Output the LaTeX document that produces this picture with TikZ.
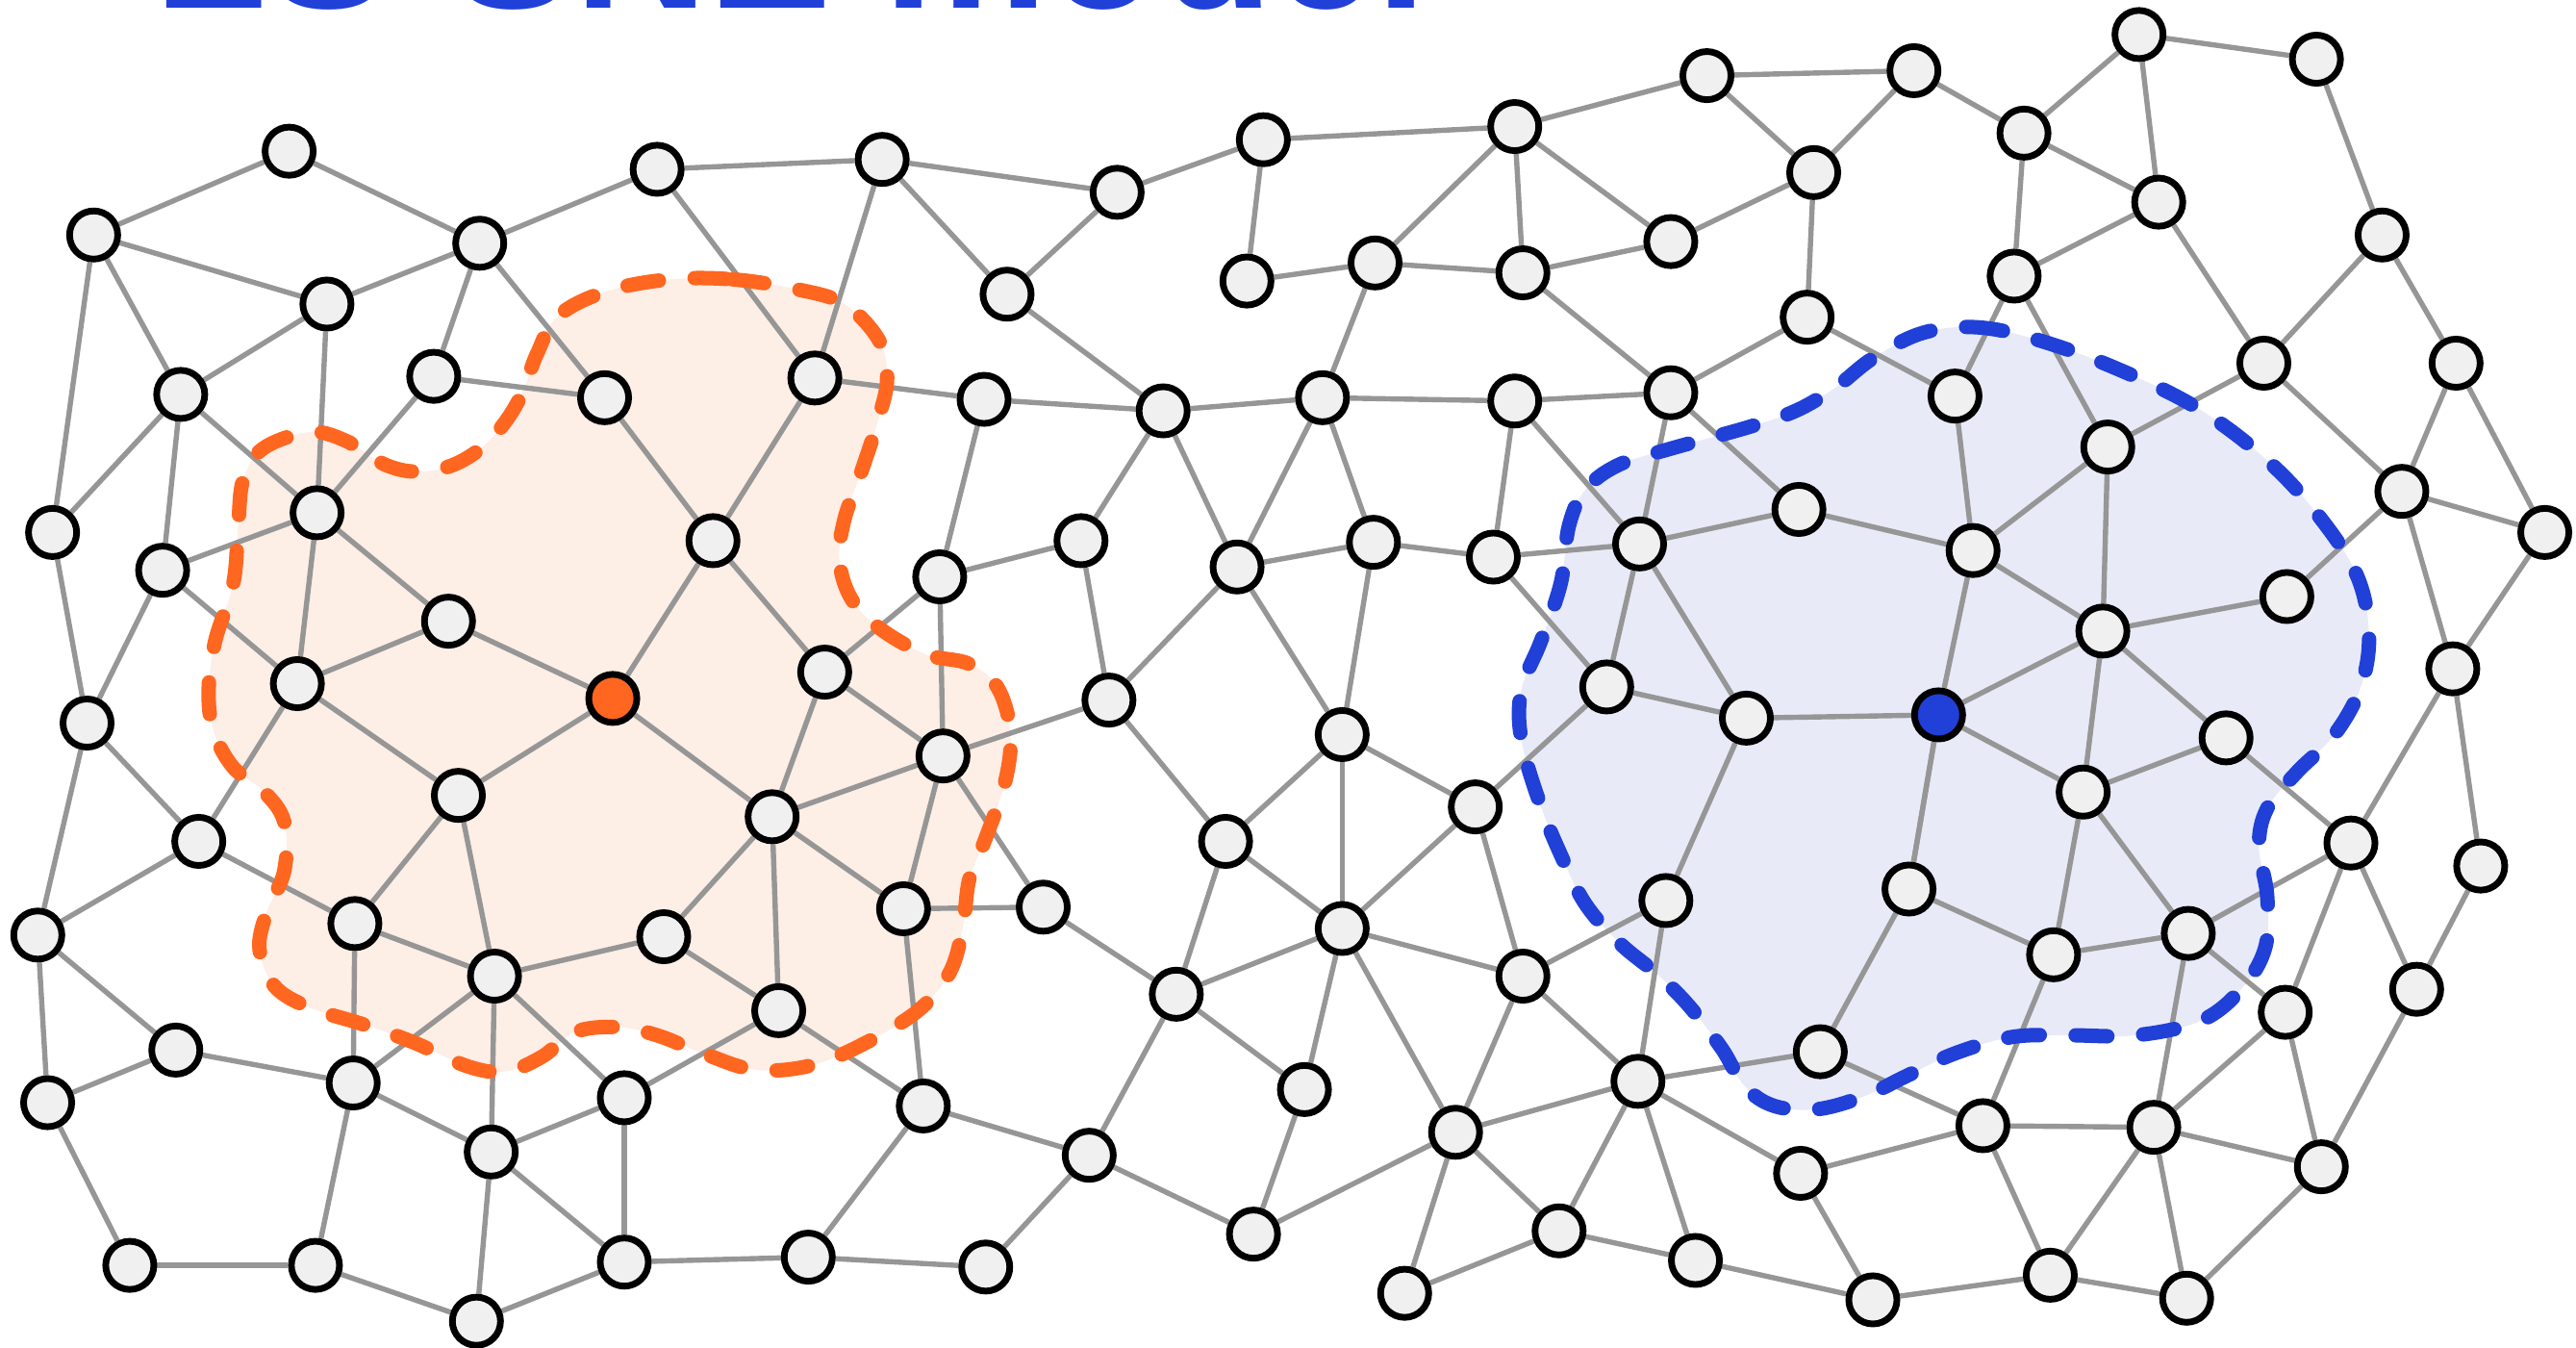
\documentclass[tikz,border=0pt]{standalone}
\usepackage{fontspec}
\setmainfont{Liberation Sans}
\pgfdeclarelayer{fillL}\pgfdeclarelayer{edgeL}\pgfdeclarelayer{dashL}
\pgfsetlayers{fillL,edgeL,dashL,main}
\definecolor{edgegray}{RGB}{150,150,150}
\definecolor{nodefill}{RGB}{240,240,240}
\definecolor{orng}{RGB}{255,102,32}
\definecolor{orngfill}{RGB}{253,238,230}
\definecolor{blu}{RGB}{32,64,216}
\definecolor{blufill}{RGB}{232,234,248}
\tikzset{
  nd/.style={circle,draw=black,fill=nodefill,line width=1.15pt,minimum size=0.293cm,inner sep=0pt},
  ond/.style={nd,fill=orng},
  bnd/.style={nd,fill=blu},
  edge/.style={draw=edgegray,line width=0.9pt},
  blobline/.style={line width=2.5pt,line cap=round,dash pattern=on 5.5pt off 6.2pt},
}
\begin{document}
\begin{tikzpicture}[x=0.01cm,y=-0.01cm]
\useasboundingbox (0,0) rectangle (1568,820);
\node[anchor=base west,text=blu,font=\fontsize{32}{34}\selectfont\bfseries,inner sep=0pt] (title) at (93,5) {LS-SNE model};
% nodes
\foreach \i/\x/\y in {1/176/92,2/57/143,3/292/148,4/199/185,5/400/103,6/537/97,7/680/117,8/769/85,9/613/179,10/110/240,
11/264/229,12/368/242,13/496/230,14/599/243,15/32/324,16/99/347,17/193/312,18/273/378,19/434/329,20/572/351,
21/658/329,22/53/440,23/181/416,25/502/409,26/574/460,27/675/426,28/279/484,29/121/512,30/470/497,
31/23/569,32/216/562,33/301/594,34/404/570,35/550/553,36/635/552,37/107/639,38/29/671,39/215/659,40/474/615,
41/299/701,42/380/668,43/562/673,44/663/703,45/79/770,46/192/770,47/290/804,48/380/768,49/492/765,50/600/771,
51/759/171,52/837/160,53/922/77,54/927/166,55/708/250,56/805/242,57/922/244,58/1017/147,59/1039/46,60/1165/43,
61/1104/105,62/1017/239,63/1100/193,64/753/345,65/836/330,66/909/339,67/998/331,68/1095/310,69/817/447,70/746/512,
71/898/491,72/978/418,73/1063/437,75/716/605,76/817/565,77/794/663,78/763/751,79/927/594,80/1014/548,
81/886/689,82/855/787,83/949/749,84/997/658,85/1032/767,86/1108/640,87/1096/714,88/1140/791,89/1162/541,90/1250/581,
91/1332/568,92/1268/482,93/1355/449,94/1280/384,95/1201/335,96/1190/241,97/1283/272,98/1226/168,99/1232/81,100/1302/21,
101/1314/123,102/1410/36,103/1450/143,104/1378/221,105/1495/221,106/1462/299,107/1549/324,108/1392/363,109/1493/407,110/1431/513,
111/1510/527,112/1391/616,113/1471/602,114/1207/685,115/1311/686,116/1413/710,117/1248/776,118/1331/790}
  \node[nd] (n\i) at (\x,\y) {};
\node[ond] (n24) at (373,425) {};
\node[bnd] (n74) at (1180,435) {};
% blobs
\begin{pgfonlayer}{fillL}
\fill[orngfill] plot[smooth cycle,tension=0.6] coordinates {(408,170)(446,170)(485,176)(514,185)(535,207)(540,230)(535,254)(525,285)(514,316)(511,341)(518,364)(535,382)(563,398)(590,404)(607,418)(615,445)(612,475)(600,510)(590,535)(586,565)(578,592)(560,614)(530,633)(495,648)(460,651)(428,641)(400,630)(376,625)(350,628)(330,643)(308,652)(285,649)(251,634)(220,623)(188,613)(167,600)(158,578)(162,556)(173,530)(173,500)(160,481)(142,467)(130,445)(127,420)(131,390)(142,355)(145,320)(148,292)(160,273)(188,263)(210,268)(235,283)(256,287)(278,282)(298,268)(315,245)(327,215)(340,192)(370,177)};
\fill[blufill] plot[smooth cycle,tension=0.6] coordinates {(1169,203)(1200,199)(1234,205)(1283,222)(1337,248)(1381,281)(1413,316)(1435,351)(1442,386)(1437,418)(1421,447)(1398,470)(1380,492)(1375,515)(1380,545)(1379,576)(1365,601)(1340,621)(1300,630)(1259,630)(1225,631)(1190,641)(1160,655)(1135,667)(1106,675)(1080,673)(1062,661)(1048,638)(1028,612)(1009,593)(986,574)(965,550)(950,520)(937,488)(926,450)(926,420)(938,390)(950,355)(955,320)(965,298)(985,283)(1017,273)(1064,260)(1093,250)(1117,236)(1140,218)};
\end{pgfonlayer}
\begin{pgfonlayer}{dashL}
\draw[orng,blobline] plot[smooth cycle,tension=0.6] coordinates {(408,170)(446,170)(485,176)(514,185)(535,207)(540,230)(535,254)(525,285)(514,316)(511,341)(518,364)(535,382)(563,398)(590,404)(607,418)(615,445)(612,475)(600,510)(590,535)(586,565)(578,592)(560,614)(530,633)(495,648)(460,651)(428,641)(400,630)(376,625)(350,628)(330,643)(308,652)(285,649)(251,634)(220,623)(188,613)(167,600)(158,578)(162,556)(173,530)(173,500)(160,481)(142,467)(130,445)(127,420)(131,390)(142,355)(145,320)(148,292)(160,273)(188,263)(210,268)(235,283)(256,287)(278,282)(298,268)(315,245)(327,215)(340,192)(370,177)};
\draw[blu,blobline] plot[smooth cycle,tension=0.6] coordinates {(1169,203)(1200,199)(1234,205)(1283,222)(1337,248)(1381,281)(1413,316)(1435,351)(1442,386)(1437,418)(1421,447)(1398,470)(1380,492)(1375,515)(1380,545)(1379,576)(1365,601)(1340,621)(1300,630)(1259,630)(1225,631)(1190,641)(1160,655)(1135,667)(1106,675)(1080,673)(1062,661)(1048,638)(1028,612)(1009,593)(986,574)(965,550)(950,520)(937,488)(926,450)(926,420)(938,390)(950,355)(955,320)(965,298)(985,283)(1017,273)(1064,260)(1093,250)(1117,236)(1140,218)};
\end{pgfonlayer}
% edges
\begin{pgfonlayer}{edgeL}
\foreach \a/\b in {1/2,1/3,2/4,2/10,2/15,3/5,3/4,3/11,3/12,4/10,4/17,10/15,10/16,10/17,11/12,11/17,12/19,
5/6,5/13,6/13,6/9,6/7,7/9,7/8,8/51,51/52,9/55,13/14,14/55,55/56,13/19,14/20,55/21,55/64,56/64,
8/53,53/59,53/52,53/54,53/58,59/60,59/61,60/61,61/58,61/63,52/54,54/58,52/56,54/62,63/62,56/57,57/62,56/65,57/66,57/67,62/67,62/68,63/96,
60/99,99/100,99/101,99/98,100/101,100/102,102/103,101/98,101/104,103/104,103/105,98/96,98/97,104/97,104/106,105/106,105/107,96/95,
15/22,16/17,16/23,16/22,17/23,17/18,23/18,18/24,23/28,28/24,22/29,22/31,29/23,29/31,29/32,28/32,28/33,24/19,24/30,
19/25,25/26,25/30,25/20,20/26,20/21,21/27,64/65,64/27,64/69,27/26,27/70,26/30,26/35,26/36,30/35,30/34,30/40,70/75,70/76,70/69,
65/66,66/67,67/68,68/95,65/69,66/72,67/72,67/73,72/73,73/74,72/71,69/71,69/76,71/76,71/79,73/80,89/74,
95/97,95/94,95/74,97/94,94/108,94/74,94/92,94/93,108/106,106/107,107/109,106/109,109/110,109/111,93/92,93/110,74/92,74/89,92/90,92/91,110/91,110/112,110/113,111/113,89/90,
31/37,31/38,37/38,37/39,32/33,32/39,33/34,33/39,33/41,33/42,42/40,42/41,42/48,41/39,41/47,41/48,39/46,38/45,45/46,46/47,47/48,48/49,
34/40,40/43,35/36,35/43,36/75,75/76,75/77,75/44,43/44,43/49,49/50,50/44,44/78,78/77,78/81,
76/79,76/77,76/81,79/80,79/84,79/81,80/84,84/86,84/81,84/83,84/85,84/87,86/89,86/114,81/82,81/83,83/82,83/85,85/88,87/88,87/114,88/117,
90/91,90/114,91/112,91/115,112/116,112/115,113/116,114/115,114/117,115/117,115/118,115/116,117/118,116/118}
  \draw[edge] (n\a) -- (n\b);
\end{pgfonlayer}
\end{tikzpicture}
\end{document}
